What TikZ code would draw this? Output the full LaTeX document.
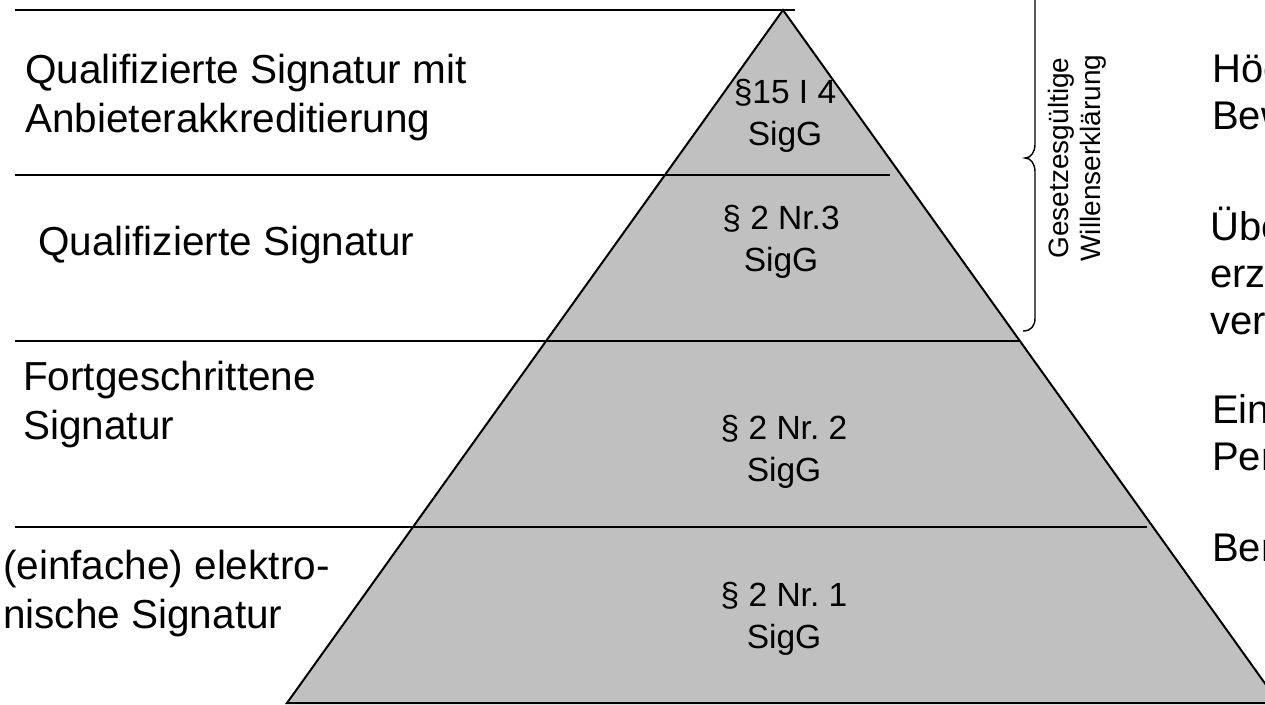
\documentclass[tikz,border=0pt]{standalone}
\usepackage{fontspec}
\setmainfont{Liberation Sans}
\usepackage{xcolor}
\usetikzlibrary{positioning,calc}
\definecolor{pyrgray}{RGB}{192,192,192}

\begin{document}
\begin{tikzpicture}[x=1pt,y=-1pt,
    level/.style={line width=2pt},
    lefttext/.style={anchor=base west, align=left, inner sep=0pt, font=\fontsize{40.5}{49}\selectfont\frenchspacing},
    lawtext/.style={anchor=base, align=center, inner sep=0pt, font=\fontsize{33.5}{42}\selectfont\frenchspacing},
    righttext/.style={anchor=base west, align=left, inner sep=0pt, font=\fontsize{40}{47}\selectfont},
    bracetext/.style={rotate=90, align=center, inner sep=0pt, font=\fontsize{28}{32}\selectfont}]
    \useasboundingbox (0,0) rectangle (1265,704);
    \clip (0,0) rectangle (1265,704);
    % corners of the pyramid
    \coordinate (apex) at (783,10);
    \coordinate (baseL) at (287,703);
    \coordinate (baseR) at (1279,703);
    \fill[pyrgray] (apex) -- (baseL) -- (baseR) -- cycle;
    % level lines
    \draw[level] (15,10) -- (795,10);
    \draw[level] (15,175) -- (890,175);
    \draw[level] (15,341) -- (1020,341);
    \draw[level] (15,527) -- (1147,527);
    \draw[level] (baseL) -- (apex) -- (baseR) -- cycle;
    % names of the levels (anchored at the last line)
    \node[lefttext] (qsa) at (25,132) {Qualifizierte Signatur mit\\Anbieterakkreditierung};
    \node[lefttext] (qs) at (38,255) {Qualifizierte Signatur};
    \node[lefttext] (fs) at (23,439) {Fortgeschrittene\\Signatur};
    \node[lefttext] (es) at (3,628) {(einfache) elektro-\\nische Signatur};
    % paragraphs
    \node[lawtext] (law4) at (785,145) {§15 I 4\\SigG};
    \node[lawtext] (law3) at (781,271) {§ 2 Nr.3\\SigG};
    \node[lawtext] (law2) at (784,481) {§ 2 Nr. 2\\SigG};
    \node[lawtext] (law1) at (784,648) {§ 2 Nr. 1\\SigG};
    % brace over the two upper levels
    \draw[line width=1.4pt] (1023,331) .. controls (1031,331) and (1035,326) .. (1035,318)
        -- (1035,172) .. controls (1035,164) and (1031,158) .. (1025,158)
        .. controls (1031,158) and (1035,152) .. (1035,144)
        -- (1035,-2) .. controls (1035,-10) and (1031,-15) .. (1023,-15);
    \node[bracetext] (gw) at (1077,158) {Gesetzesgültige\\Willenserklärung};
    % right column
    \node[righttext] (r4) at (1212,129) {Höc\\Bew};
    \node[righttext] (r3) at (1210,334) {Übe\\erz\\ver};
    \node[righttext] (r2) at (1212,470) {Ein\\Per};
    \node[righttext] (r1) at (1212,561) {Ber};
\end{tikzpicture}
\end{document}
